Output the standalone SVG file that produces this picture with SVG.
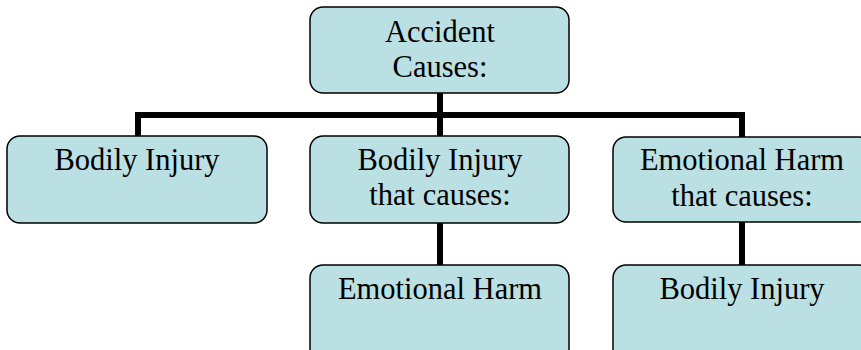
<svg xmlns="http://www.w3.org/2000/svg" width="861" height="350" viewBox="0 0 861 350">
<style>
.box{fill:#BBE0E3;stroke:#000;stroke-width:1.5}
.t{font-family:"Liberation Serif","Times New Roman",serif;font-size:30.5px;fill:#000;text-anchor:middle}
.c{stroke:#000;stroke-width:6;fill:none;stroke-linecap:butt}
</style>
<rect width="861" height="350" fill="#fff"/>
<g id="connectors">
<path class="c" d="M440 93V137"/>
<path class="c" d="M138 137V115H742V137"/>
<path class="c" d="M440 223V265"/>
<path class="c" d="M742 222V265"/>
</g>
<g id="accident">
<rect class="box" x="310" y="7" width="259" height="86" rx="13"/>
<text class="t" x="440" y="42">Accident</text>
<text class="t" x="440" y="77">Causes:</text>
</g>
<g id="bodily-injury">
<rect class="box" x="7" y="136" width="260" height="87" rx="13"/>
<text class="t" x="137" y="170">Bodily Injury</text>
</g>
<g id="bodily-injury-causes">
<rect class="box" x="310" y="136" width="259" height="87" rx="13"/>
<text class="t" x="440" y="170">Bodily Injury</text>
<text class="t" x="440" y="205">that causes:</text>
</g>
<g id="emotional-harm-causes">
<rect class="box" x="613" y="137" width="259" height="85" rx="13"/>
<text class="t" x="742" y="170">Emotional Harm</text>
<text class="t" x="742" y="206">that causes:</text>
</g>
<g id="emotional-harm">
<rect class="box" x="310" y="265" width="259" height="100" rx="13"/>
<text class="t" x="440" y="299">Emotional Harm</text>
</g>
<g id="bodily-injury-2">
<rect class="box" x="613" y="265" width="259" height="100" rx="13"/>
<text class="t" x="742" y="299">Bodily Injury</text>
</g>
</svg>
